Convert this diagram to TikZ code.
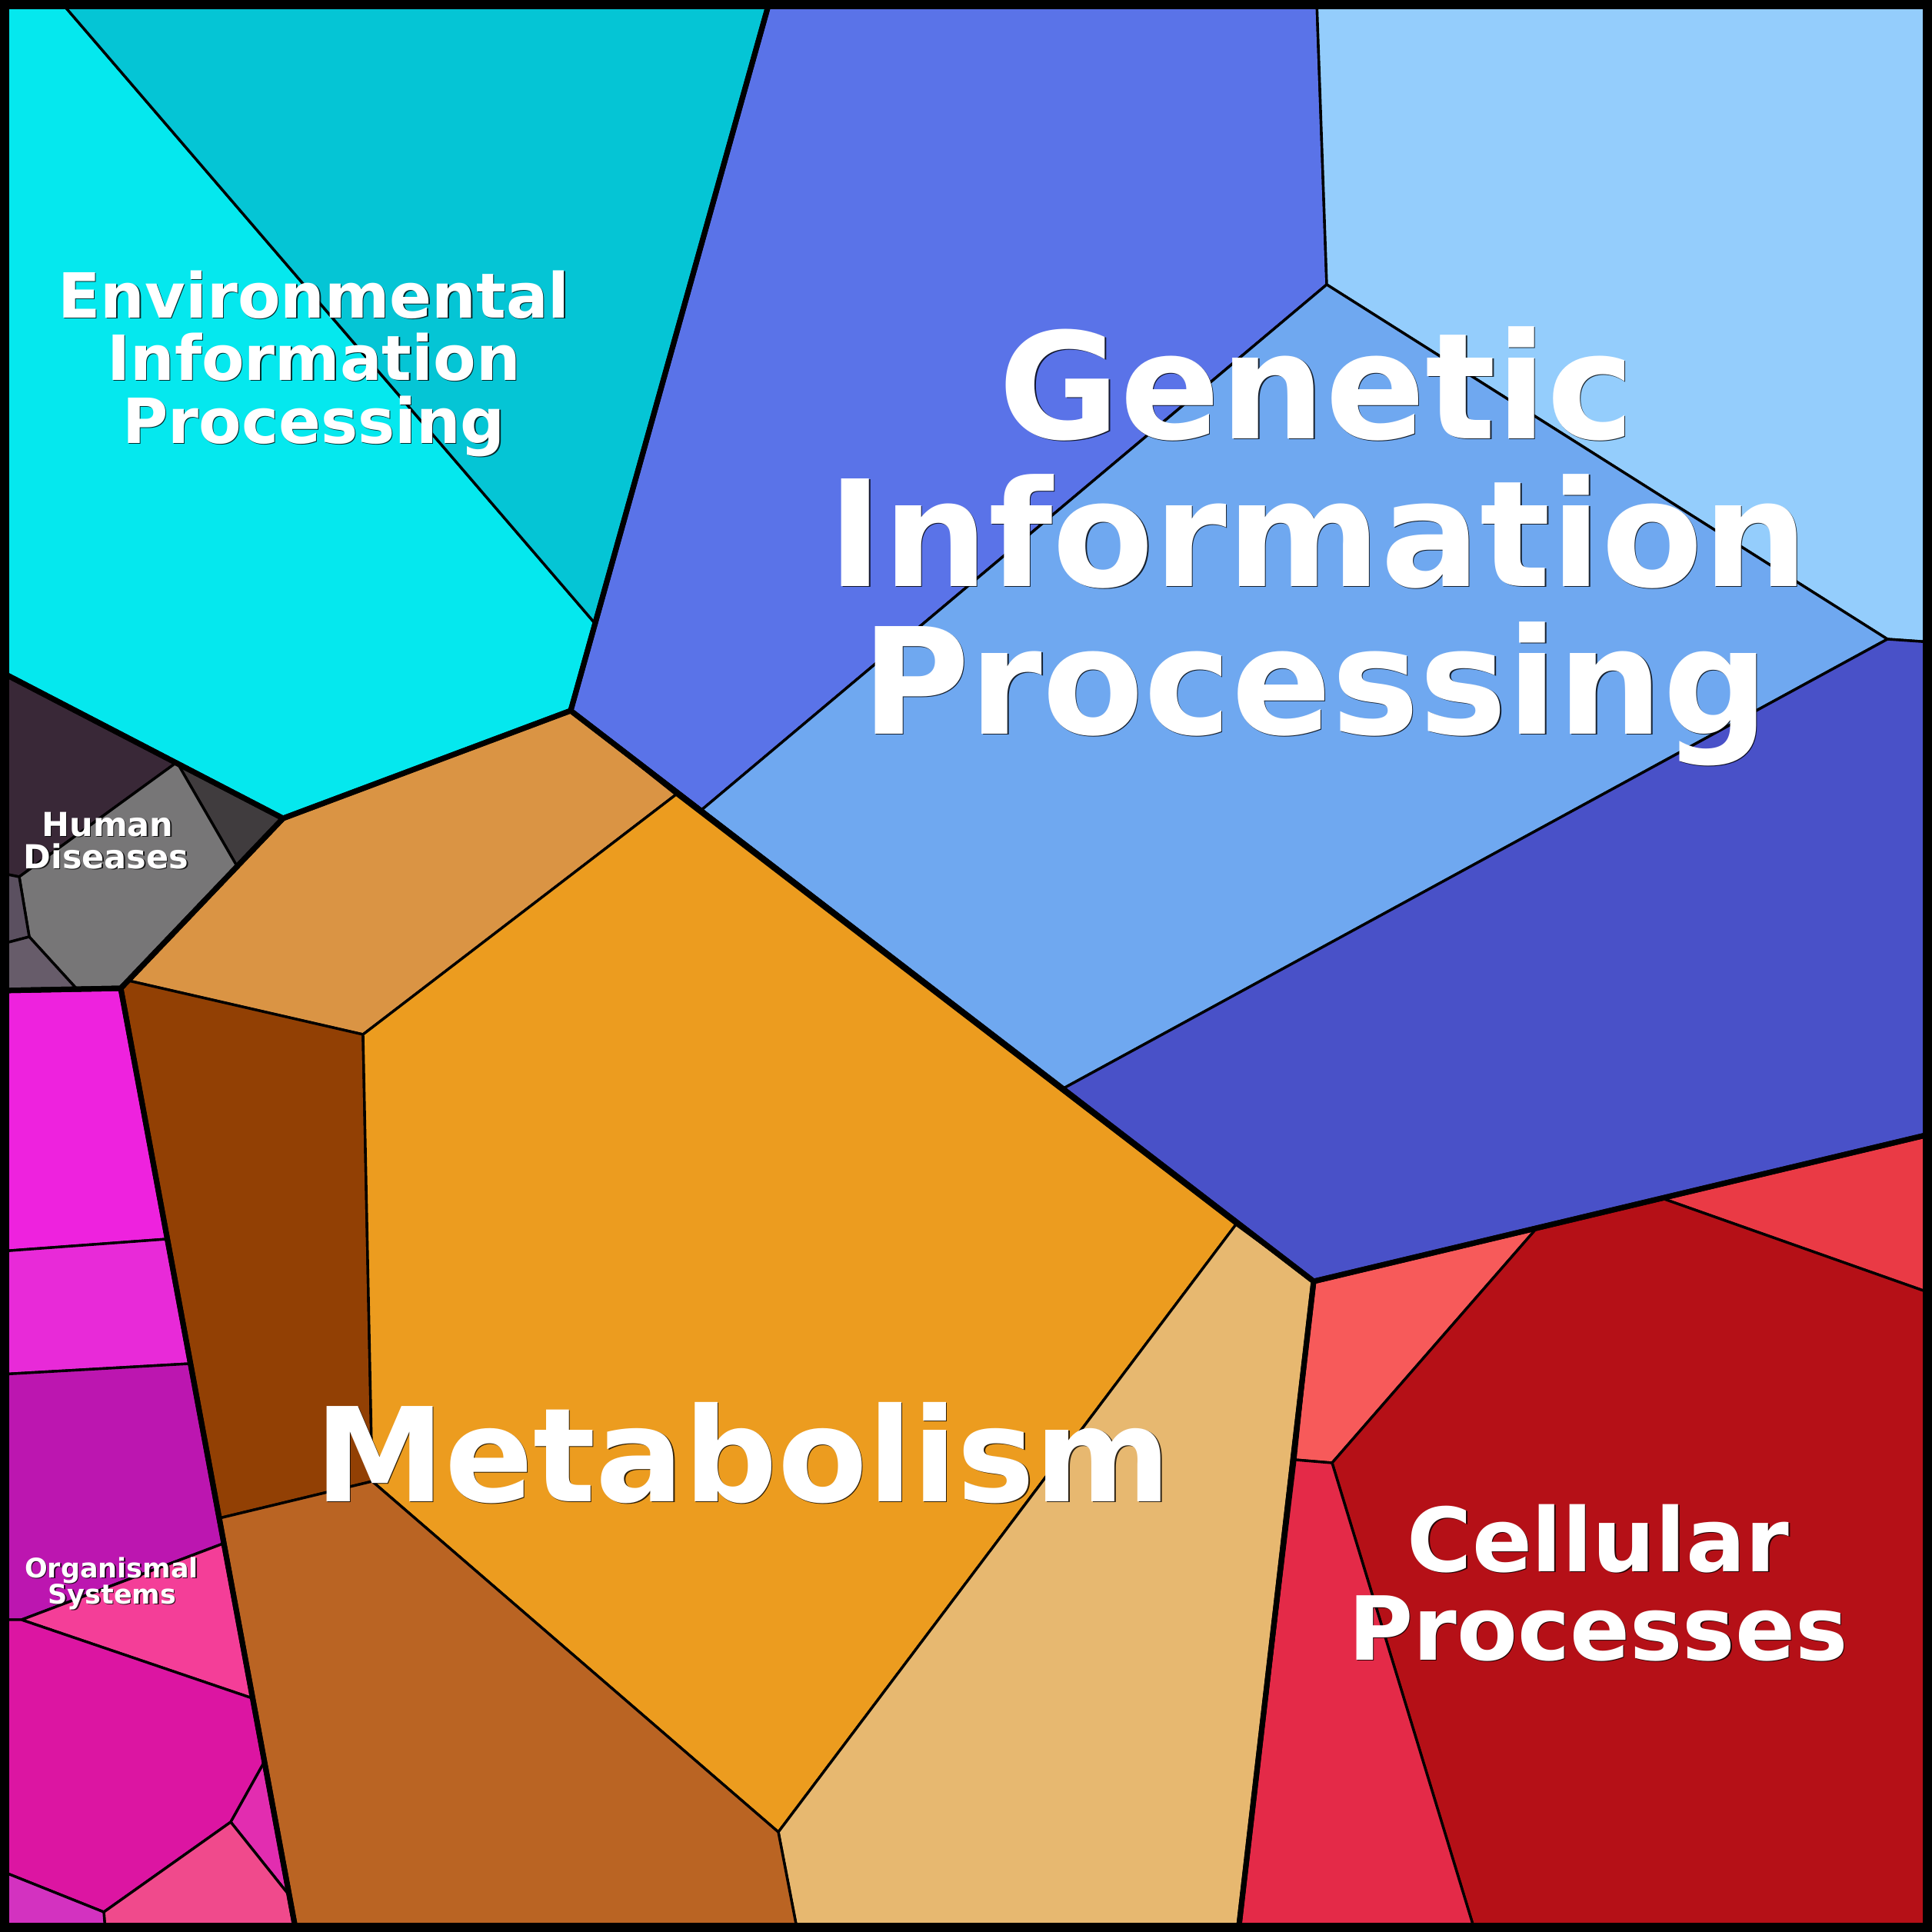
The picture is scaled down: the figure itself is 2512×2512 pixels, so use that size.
\documentclass[tikz,border=0pt]{standalone}
\usepackage{fontspec}
\setmainfont{DejaVu Sans}
\definecolor{envA}{HTML}{05E8EE}
\definecolor{envB}{HTML}{05C5D5}
\definecolor{genA}{HTML}{5A73E8}
\definecolor{genB}{HTML}{94CDFC}
\definecolor{genC}{HTML}{6FA8F0}
\definecolor{genD}{HTML}{4951C8}
\definecolor{metA}{HTML}{DA9444}
\definecolor{metB}{HTML}{924004}
\definecolor{metC}{HTML}{EC9C1F}
\definecolor{metD}{HTML}{E7B870}
\definecolor{metE}{HTML}{BA6423}
\definecolor{celA}{HTML}{F75A5A}
\definecolor{celB}{HTML}{EA3A45}
\definecolor{celC}{HTML}{B51017}
\definecolor{celD}{HTML}{E42A48}
\definecolor{humA}{HTML}{392837}
\definecolor{humB}{HTML}{403C3E}
\definecolor{humC}{HTML}{777677}
\definecolor{humD}{HTML}{5B5060}
\definecolor{humE}{HTML}{675C6A}
\definecolor{orgA}{HTML}{EE22DE}
\definecolor{orgB}{HTML}{E82AD8}
\definecolor{orgC}{HTML}{BC16B0}
\definecolor{orgD}{HTML}{F43E98}
\definecolor{orgE}{HTML}{DC15A2}
\definecolor{orgF}{HTML}{E22DB0}
\definecolor{orgG}{HTML}{F04A8C}
\definecolor{orgH}{HTML}{D332C0}
\tikzset{
  cell/.style={draw=black, line width=3.4pt, line join=round},
  grp/.style={draw=black, line width=7pt, line join=round},
  lbl/.style={anchor=base, text=white, inner sep=0pt, outer sep=0pt},
  lblsh/.style={anchor=base, text=black, text opacity=0.8, inner sep=0pt, outer sep=0pt}
}
\newcommand{\vlabel}[5]{%
  \node[lblsh, font=\fontsize{#4}{#4}\selectfont\bfseries] (#1-sh) at (#2+1.4,#3+1.4) {#5};
  \node[lbl, font=\fontsize{#4}{#4}\selectfont\bfseries] (#1) at (#2,#3) {#5};
}
\begin{document}
\begin{tikzpicture}[x=1pt,y=-1pt]
\useasboundingbox (0,0) rectangle (2512,2512);
% Environmental Information Processing
\path[cell, fill=envA] (0,0) -- (77,0) -- (774,811) -- (742,924) -- (368,1064) -- (0,873) -- cycle;
\path[cell, fill=envB] (77,0) -- (1001,0) -- (774,811) -- cycle;
% Genetic Information Processing
\path[cell, fill=genA] (1001,0) -- (1712,0) -- (1725,370) -- (911,1054) -- (742,924) -- cycle;
\path[cell, fill=genB] (1712,0) -- (2512,0) -- (2512,835) -- (2454,831) -- (1725,370) -- cycle;
\path[cell, fill=genC] (1725,370) -- (2454,831) -- (1381,1416) -- (911,1054) -- cycle;
\path[cell, fill=genD] (2454,831) -- (2512,835) -- (2512,1474) -- (1708,1666) -- (1381,1416) -- cycle;
% Metabolism
\path[cell, fill=metA] (368,1064) -- (742,924) -- (879,1033) -- (472,1345) -- (167,1275) -- cycle;
\path[cell, fill=metB] (167,1275) -- (472,1345) -- (484,1926) -- (285,1974) -- (157,1285) -- cycle;
\path[cell, fill=metC] (879,1033) -- (1607,1592) -- (1012,2382) -- (484,1926) -- (472,1345) -- cycle;
\path[cell, fill=metD] (1607,1592) -- (1708,1666) -- (1610,2512) -- (1037,2512) -- (1012,2382) -- cycle;
\path[cell, fill=metE] (285,1974) -- (484,1926) -- (1012,2382) -- (1037,2512) -- (385,2512) -- cycle;
% Cellular Processes
\path[cell, fill=celA] (1708,1666) -- (1997,1598) -- (1732,1902) -- (1684,1898) -- cycle;
\path[cell, fill=celB] (2161,1558) -- (2512,1474) -- (2512,1682) -- cycle;
\path[cell, fill=celC] (1997,1598) -- (2161,1558) -- (2512,1682) -- (2512,2512) -- (1918,2512) -- (1732,1902) -- cycle;
\path[cell, fill=celD] (1684,1898) -- (1732,1902) -- (1918,2512) -- (1610,2512) -- cycle;
% Human Diseases
\path[cell, fill=humA] (0,873) -- (230,991) -- (25,1140) -- (0,1135) -- cycle;
\path[cell, fill=humB] (230,991) -- (368,1064) -- (308,1126) -- cycle;
\path[cell, fill=humC] (230,991) -- (308,1126) -- (157,1285) -- (100,1286) -- (38,1218) -- (25,1140) -- cycle;
\path[cell, fill=humD] (0,1135) -- (25,1140) -- (38,1218) -- (0,1228) -- cycle;
\path[cell, fill=humE] (0,1228) -- (38,1218) -- (100,1286) -- (0,1288) -- cycle;
% Organismal Systems
\path[cell, fill=orgA] (0,1288) -- (157,1285) -- (217,1611) -- (0,1627) -- cycle;
\path[cell, fill=orgB] (0,1627) -- (217,1611) -- (247,1773) -- (0,1787) -- cycle;
\path[cell, fill=orgC] (0,1787) -- (247,1773) -- (290,2007) -- (28,2106) -- (0,2106) -- cycle;
\path[cell, fill=orgD] (28,2106) -- (290,2007) -- (328,2208) -- cycle;
\path[cell, fill=orgE] (0,2106) -- (28,2106) -- (328,2208) -- (343,2292) -- (300,2369) -- (135,2486) -- (0,2432) -- cycle;
\path[cell, fill=orgF] (343,2292) -- (375,2463) -- (300,2369) -- cycle;
\path[cell, fill=orgG] (300,2369) -- (375,2463) -- (385,2512) -- (137,2512) -- (135,2486) -- cycle;
\path[cell, fill=orgH] (0,2432) -- (135,2486) -- (137,2512) -- (0,2512) -- cycle;
% group outlines
\path[grp] (0,0) -- (1001,0) -- (742,924) -- (368,1064) -- (0,873) -- cycle;
\path[grp] (1001,0) -- (2512,0) -- (2512,1474) -- (1708,1666) -- (742,924) -- cycle;
\path[grp] (742,924) -- (1708,1666) -- (1610,2512) -- (385,2512) -- (157,1285) -- (368,1064) -- cycle;
\path[grp] (1708,1666) -- (2512,1474) -- (2512,2512) -- (1610,2512) -- cycle;
\path[grp] (0,873) -- (368,1064) -- (157,1285) -- (0,1288) -- cycle;
\path[grp] (0,1288) -- (157,1285) -- (385,2512) -- (0,2512) -- cycle;
% frame
\draw[line width=12pt, line join=round] (6,6) rectangle (2506,2506);
% labels
\vlabel{env1}{408}{413}{81}{Environmental}
\vlabel{env2}{408}{494}{81}{Information}
\vlabel{env3}{408}{576}{81}{Processing}
\vlabel{gen1}{1712}{570}{192}{Genetic}
\vlabel{gen2}{1714}{762}{192}{Information}
\vlabel{gen3}{1710}{954}{192}{Processing}
\vlabel{met1}{966}{1952}{170}{Metabolism}
\vlabel{cel1}{2078}{2043}{115}{Cellular}
\vlabel{cel2}{2078}{2158}{115}{Processes}
\vlabel{hum1}{140}{1087}{43}{Human}
\vlabel{hum2}{138}{1129}{43}{Diseases}
\vlabel{org1}{145}{2051}{35}{Organismal}
\vlabel{org2}{146}{2085}{35}{Systems}
\end{tikzpicture}
\end{document}
